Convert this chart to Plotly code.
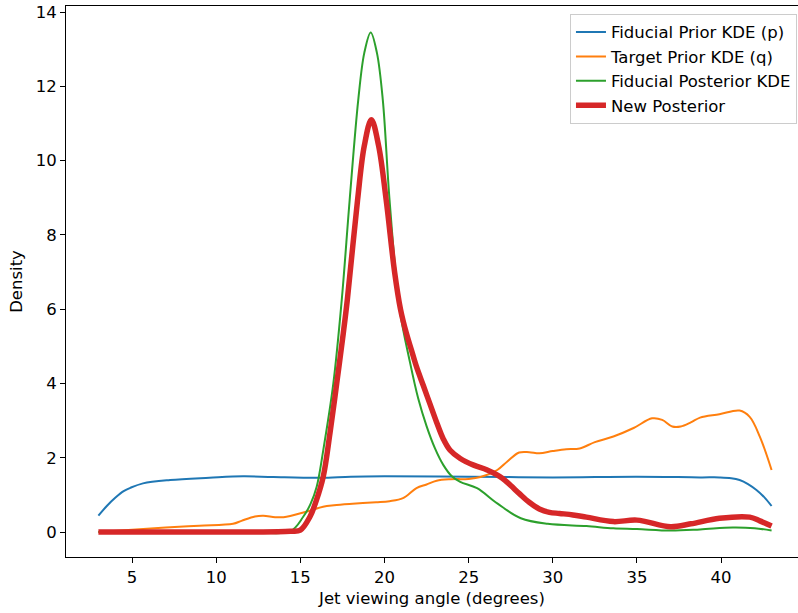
import plotly.graph_objects as go

# Fiducial Prior KDE (p)
prior_x = [3, 3.5, 4.0, 4.5, 4.9, 5.65, 7.26, 9.6, 11.6, 13.4, 16.2, 18, 20, 25, 30, 35, 38.75, 39.9, 40.6, 41.1, 41.6, 42.1, 42.6, 43]
prior_y = [0.44, 0.7, 0.92, 1.1, 1.19, 1.31, 1.40, 1.46, 1.50, 1.48, 1.46, 1.49, 1.50, 1.49, 1.47, 1.49, 1.47, 1.47, 1.45, 1.40, 1.29, 1.13, 0.92, 0.70]

# Target Prior KDE (q)
target_x = [3, 5, 7, 9, 11, 11.5, 12.3, 12.8, 13.5, 14.0, 14.4, 15.4, 16.35, 17.0, 18.1, 19.5, 20.3, 21.1, 21.9, 22.5,
            23.1, 23.9, 25, 25.7, 26.7, 27.3, 28.0, 28.6, 29.2, 30.0, 30.8, 31.6, 32.5, 33.6, 34.8, 35.9, 36.5, 37.1,
            37.6, 38.2, 38.75, 39.9, 41.1, 41.7, 42.3, 43]
target_y = [0.0, 0.06, 0.12, 0.17, 0.22, 0.30, 0.42, 0.44, 0.40, 0.40, 0.43, 0.55, 0.68, 0.72, 0.76, 0.80, 0.83, 0.91, 1.18, 1.28,
            1.38, 1.42, 1.43, 1.48, 1.67, 1.9, 2.14, 2.15, 2.12, 2.18, 2.23, 2.25, 2.42, 2.57, 2.8, 3.06, 3.02, 2.84,
            2.84, 2.95, 3.08, 3.17, 3.27, 3.1, 2.57, 1.67]

# Fiducial Posterior KDE
fpost_x = [3, 8, 12, 14.4, 15.17, 15.6, 15.97, 16.36, 16.96, 17.46, 17.93, 18.44, 18.8, 19.18, 19.55, 19.9, 20.3, 20.9, 21.5,
           22.0, 22.5, 23.0, 23.5, 24.0, 24.5, 25.5, 26.7, 28.1, 29.7, 32, 33.6, 35, 37, 38.75, 40.7, 42, 43]
fpost_y = [0, 0, 0, 0.02, 0.41, 0.75, 1.22, 2.2, 4.0, 6.25, 8.94, 11.63, 12.9, 13.45, 12.9, 11.63, 8.94, 6.0, 4.6,
           3.6, 2.85, 2.25, 1.8, 1.5, 1.35, 1.18, 0.77, 0.37, 0.22, 0.16, 0.10, 0.08, 0.04, 0.07, 0.12, 0.10, 0.04]

# New Posterior
npost_x = [3, 8, 12, 14.4, 15.0, 15.57, 15.95, 16.36, 16.76, 17.16, 17.55, 17.79, 18.4, 18.8, 19.22, 19.65, 20.1, 20.6,
           20.95, 21.3, 21.6, 21.9, 22.3, 22.7, 23.1, 23.5, 23.9, 24.5, 25.3, 26.1, 27.0, 27.5, 28.0, 28.6, 29.2,
           29.8, 30.4, 31.2, 32, 33.6, 35, 37, 38.2, 39.9, 41.7, 42.3, 43]
npost_y = [0, 0, 0, 0.02, 0.05, 0.41, 0.85, 1.49, 2.66, 4.0, 5.35, 6.25, 8.94, 10.4, 11.1, 10.4, 8.94, 7.0,
           6.0, 5.35, 4.9, 4.45, 3.95, 3.45, 2.95, 2.5, 2.2, 1.98, 1.8, 1.67, 1.45, 1.25, 1.04, 0.8, 0.62,
           0.53, 0.50, 0.46, 0.40, 0.28, 0.32, 0.14, 0.22, 0.37, 0.40, 0.30, 0.16]

names = ["Fiducial Prior KDE (p)", "Target Prior KDE (q)", "Fiducial Posterior KDE", "New Posterior"]
colors = ["#1f77b4", "#ff7f0e", "#2ca02c", "#d62728"]
widths = [2, 2, 2, 5.5]

fig = go.Figure()
series = [(prior_x, prior_y), (target_x, target_y), (fpost_x, fpost_y), (npost_x, npost_y)]
for i, ((xs, ys), nm, c, w) in enumerate(zip(series, names, colors, widths)):
    fig.add_trace(go.Scatter(x=xs, y=ys, mode="lines", name=nm, legendgroup=f"g{i}",
                             line=dict(color=c, width=w, shape="spline", smoothing=1.0)))

font = "DejaVu Sans, Liberation Sans, sans-serif"
FS = 16.5
fig.update_layout(
    width=798, height=613,
    margin=dict(l=66, r=0, t=6, b=56),
    paper_bgcolor="white", plot_bgcolor="white",
    font=dict(family=font, size=FS, color="black"),
    showlegend=True,
    legend=dict(x=0.9986, y=0.986, xanchor="right", yanchor="top",
                bgcolor="rgba(255,255,255,0.8)", bordercolor="#cccccc", borderwidth=1,
                font=dict(family=font, size=FS, color="black"),
                traceorder="grouped", tracegroupgap=0),
)
fig.update_xaxes(range=[1.075, 44.57], tick0=0, dtick=5, ticks="outside", ticklen=5, tickwidth=1,
                 tickcolor="black", showline=True, linecolor="black", linewidth=1, mirror=True,
                 showgrid=False, zeroline=False,
                 title=dict(text="Jet viewing angle (degrees)", standoff=6, font=dict(size=FS)))
fig.update_yaxes(range=[-0.673, 14.163], tick0=0, dtick=2, ticks="outside", ticklen=5, tickwidth=1,
                 tickcolor="black", showline=True, linecolor="black", linewidth=1, mirror=False,
                 showgrid=False, zeroline=False,
                 title=dict(text="Density", standoff=8, font=dict(size=FS)))

fig.write_html("out.html")
